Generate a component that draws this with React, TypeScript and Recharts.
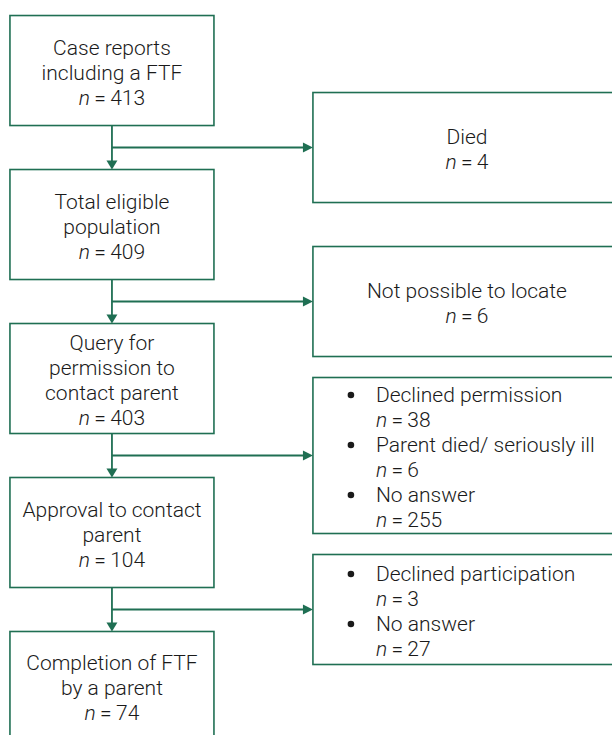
// Participant flow: main steps down the left, exclusions branching off to the right.
// Boxes are Scatter points with a custom shape; connectors are ReferenceLine segments.
import { ReferenceLine, Scatter, ScatterChart, XAxis, YAxis } from "recharts";

const mainLabels = [
  ["Case reports", "including a FTF"],
  ["Total eligible", "population"],
  ["Query for", "permission to", "contact parent"],
  ["Approval to contact", "parent"],
  ["Completion of FTF", "by a parent"],
];
const mainCounts = [413, 409, 403, 104, 74];

const exclusionLabels = [
  ["Died"],
  ["Not possible to locate"],
  ["Declined permission", "Parent died/ seriously ill", "No answer"],
  ["Declined participation", "No answer"],
];
const exclusionCounts = [[4], [6], [38, 6, 255], [3, 27]];

const GREEN = "#1f6f53";
const INK = "#1a1a1a";
const FONT = "Roboto, 'Open Sans', sans-serif";
const FONT_SIZE = 21;
const LINE = 25;
const MAIN_W = 204;
const MAIN_H = 110;
const SIDE_W = 308;

type Line = { text?: string; n?: number; bullet?: boolean };

const mainData = mainLabels.map((label, i) => ({
  x: 0,
  y: i,
  lines: [...label.map((t) => ({ text: t })), { n: mainCounts[i] }] as Line[],
}));

const exclusionData = exclusionLabels.map((labels, i) => {
  const bullet = labels.length > 1;
  const lines: Line[] = [];
  labels.forEach((t, j) => {
    lines.push({ text: t, bullet });
    lines.push({ n: exclusionCounts[i][j] });
  });
  return { x: 1, y: i + 0.5, lines, bullet };
});

function TextLines({ lines, x, cy, anchor }: { lines: Line[]; x: number; cy: number; anchor: "middle" | "start" }) {
  const first = cy - ((lines.length - 1) * LINE) / 2 + 9;
  return (
    <g>
      {lines.map((l, k) => {
        const y = first + k * LINE;
        return (
          <g key={k}>
            {l.bullet && <circle cx={x - 25} cy={y - 7} r={3.3} fill={INK} />}
            <text x={x} y={y} textAnchor={anchor} fontSize={FONT_SIZE} fill={INK} fontFamily={FONT} fontWeight={300}>
              {l.n !== undefined ? (
                <>
                  <tspan fontStyle="italic">n</tspan>
                  <tspan>{`\u2009=\u2009${l.n}`}</tspan>
                </>
              ) : (
                l.text
              )}
            </text>
          </g>
        );
      })}
    </g>
  );
}

function MainBox(props: any) {
  const { cx, cy, payload } = props;
  return (
    <g>
      <rect x={cx - MAIN_W / 2} y={cy - MAIN_H / 2} width={MAIN_W} height={MAIN_H} fill="none" stroke={GREEN} strokeWidth={1.6} />
      <TextLines lines={payload.lines} x={cx} cy={cy} anchor="middle" />
    </g>
  );
}

function SideBox(props: any) {
  const { cx, cy, payload } = props;
  const h = Math.max(MAIN_H, payload.lines.length * LINE + 6);
  return (
    <g>
      <rect x={cx} y={cy - h / 2} width={SIDE_W} height={h} fill="none" stroke={GREEN} strokeWidth={1.6} />
      {payload.bullet ? (
        <TextLines lines={payload.lines} x={cx + 63} cy={cy} anchor="start" />
      ) : (
        <TextLines lines={payload.lines} x={cx + SIDE_W / 2} cy={cy} anchor="middle" />
      )}
    </g>
  );
}

// Vertical connector between two main boxes, arrowhead touching the lower box.
function DownArrow(props: any) {
  const { x1, y1, y2 } = props;
  const top = y1 + MAIN_H / 2;
  const tip = y2 - MAIN_H / 2;
  return (
    <g>
      <line x1={x1} y1={top} x2={x1} y2={tip - 8} stroke={GREEN} strokeWidth={1.8} />
      <polygon points={`${x1 - 5.5},${tip - 9} ${x1 + 5.5},${tip - 9} ${x1},${tip}`} fill={GREEN} />
    </g>
  );
}

// Horizontal branch from the vertical connector to an exclusion box.
function SideArrow(props: any) {
  const { x1, y1, x2 } = props;
  return (
    <g>
      <line x1={x1} y1={y1} x2={x2 - 8} y2={y1} stroke={GREEN} strokeWidth={1.8} />
      <polygon points={`${x2 - 10},${y1 - 5} ${x2 - 10},${y1 + 5} ${x2},${y1}`} fill={GREEN} />
    </g>
  );
}

export default function App() {
  return (
    <div style={{ position: "absolute", left: 0, top: 0, background: "#fff" }}>
      <ScatterChart width={612} height={735} margin={{ top: 0, right: 0, bottom: 0, left: 0 }}>
        <XAxis type="number" dataKey="x" hide domain={[-0.557, 2.488]} allowDataOverflow />
        <YAxis type="number" dataKey="y" hide reversed domain={[-0.458, 4.315]} allowDataOverflow />
        {mainData.slice(0, -1).map((d, i) => (
          <ReferenceLine
            key={`v${i}`}
            segment={[
              { x: 0, y: i },
              { x: 0, y: i + 1 },
            ]}
            shape={DownArrow}
          />
        ))}
        {exclusionData.map((d, i) => (
          <ReferenceLine
            key={`h${i}`}
            segment={[
              { x: 0, y: d.y },
              { x: 1, y: d.y },
            ]}
            shape={SideArrow}
          />
        ))}
        <Scatter data={mainData} shape={MainBox} isAnimationActive={false} />
        <Scatter data={exclusionData} shape={SideBox} isAnimationActive={false} />
      </ScatterChart>
    </div>
  );
}
